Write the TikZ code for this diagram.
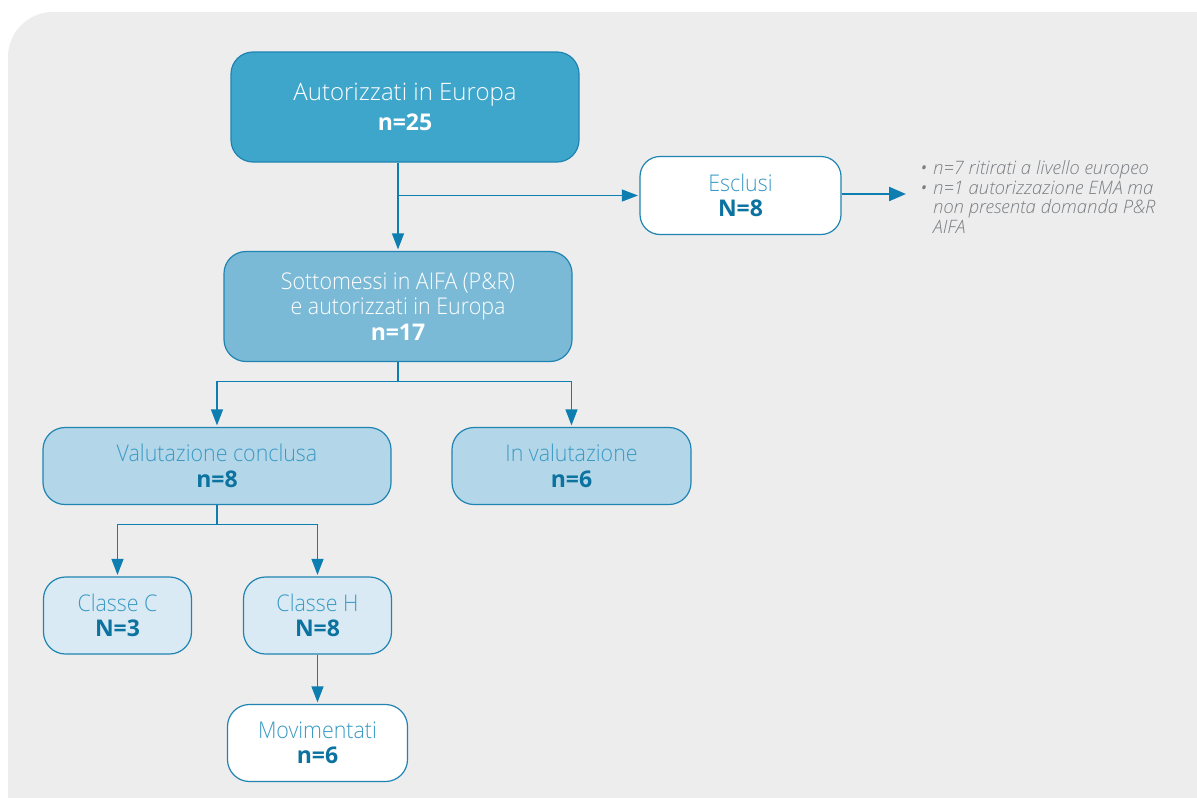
\documentclass[tikz,border=0pt]{standalone}
\usepackage{fontspec}
\setmainfont{Open Sans}
\newfontfamily\lightfont{Open Sans Light}
\newfontfamily\narrowfont{Open Sans Light}[FakeStretch=0.93]
\usetikzlibrary{arrows.meta,calc}

\definecolor{panel}{HTML}{EDEDED}
\definecolor{edge}{HTML}{1F84B2}
\definecolor{link}{HTML}{0E7DAF}
\definecolor{fillA}{HTML}{3FA6CB}
\definecolor{fillB}{HTML}{7BBAD6}
\definecolor{fillC}{HTML}{B3D6E8}
\definecolor{fillD}{HTML}{DAEAF4}
\definecolor{soft}{HTML}{3B9AC5}
\definecolor{deep}{HTML}{0C72A0}
\definecolor{notegrey}{HTML}{7A7E82}

\tikzset{
  box/.style={draw=edge, line width=1.2pt, rounded corners=22pt, align=center,
              inner sep=0pt, font=\narrowfont\fontsize{23}{25.5}\selectfont},
  darkbox/.style={box, text=white},
  lightbox/.style={box, text=soft},
  arrowline/.style={draw=link, line width=1.2pt,
                    -{Triangle[length=16pt,width=12pt]}, shorten >=1.5pt},
  boldarrow/.style={draw=link, line width=2.2pt,
                    -{Triangle[length=17pt,width=14pt]}},
  plainline/.style={draw=link, line width=1.2pt},
  note/.style={text=notegrey, align=left, inner sep=0pt, anchor=north west,
               font=\lightfont\fontsize{18.5}{19.6}\selectfont\itshape}
}
\newcommand{\num}[1]{{\normalfont\bfseries\fontsize{23}{25.5}\selectfont #1}}

\begin{document}
\begin{tikzpicture}[x=1pt,y=-1pt]
\useasboundingbox (0,0) rectangle (1197,798);
\fill[white] (0,0) rectangle (1197,798);
\begin{scope}
  \clip (0,0) rectangle (1197,798);
  \fill[panel, rounded corners=45pt] (8,12) rectangle (1290,900);
\end{scope}

% boxes
\node[darkbox, fill=fillA, minimum width=348pt, minimum height=110pt]
  (aut) at (405,107)
  {{\lightfont\fontsize{24}{26}\selectfont Autorizzati in Europa}\\[4pt]\num{n=25}};
\node[lightbox, fill=white, minimum width=201pt, minimum height=78pt, rounded corners=20pt]
  (escl) at (740.5,195.5) {Esclusi\\\textcolor{deep}{\num{N=8}}};
\node[darkbox, fill=fillB, minimum width=348pt, minimum height=110pt]
  (sott) at (398,306.5) {Sottomessi in AIFA (P\&R)\\e autorizzati in Europa\\\num{n=17}};
\node[lightbox, fill=fillC, minimum width=348pt, minimum height=77pt]
  (conc) at (217,466) {Valutazione conclusa\\\textcolor{deep}{\num{n=8}}};
\node[lightbox, fill=fillC, minimum width=239pt, minimum height=77pt]
  (inval) at (571.5,466) {In valutazione\\\textcolor{deep}{\num{n=6}}};
\node[lightbox, fill=fillD, minimum width=148pt, minimum height=77pt]
  (clC) at (117.5,615.5) {Classe C\\\textcolor{deep}{\num{N=3}}};
\node[lightbox, fill=fillD, minimum width=148pt, minimum height=77pt]
  (clH) at (317.5,615.5) {Classe H\\\textcolor{deep}{\num{N=8}}};
\node[lightbox, fill=white, minimum width=180pt, minimum height=77pt]
  (mov) at (317.5,743) {Movimentati\\\textcolor{deep}{\num{n=6}}};

% side note
\node[note] (notes) at (933,160.5)
  {\llap{•\hspace{6pt}}n=7 ritirati a livello europeo\\
   \llap{•\hspace{6pt}}n=1 autorizzazione EMA ma\\
   non presenta domanda P\&R\\
   AIFA};
\coordinate (notetip) at (906,194);

% connectors
\draw[arrowline] (sott.north |- aut.south) -- (sott.north);
\draw[arrowline] (sott.north |- escl.west) -- (escl.west);
\draw[boldarrow] (escl.east |- notetip) -- (notetip);

\coordinate (split1) at ($(sott.south)+(0,19)$);
\draw[plainline] (sott.south) -- (split1);
\draw[plainline] (conc.north |- split1) -- (inval.north |- split1);
\draw[arrowline] (conc.north |- split1) -- (conc.north);
\draw[arrowline] (inval.north |- split1) -- (inval.north);

\coordinate (split2) at ($(conc.south)+(0,19)$);
\draw[plainline] (conc.south) -- (split2);
\draw[plainline] (clC.north |- split2) -- (clH.north |- split2);
\draw[arrowline] (clC.north |- split2) -- (clC.north);
\draw[arrowline] (clH.north |- split2) -- (clH.north);

\draw[arrowline] (clH.south) -- (mov.north);
\end{tikzpicture}
\end{document}
